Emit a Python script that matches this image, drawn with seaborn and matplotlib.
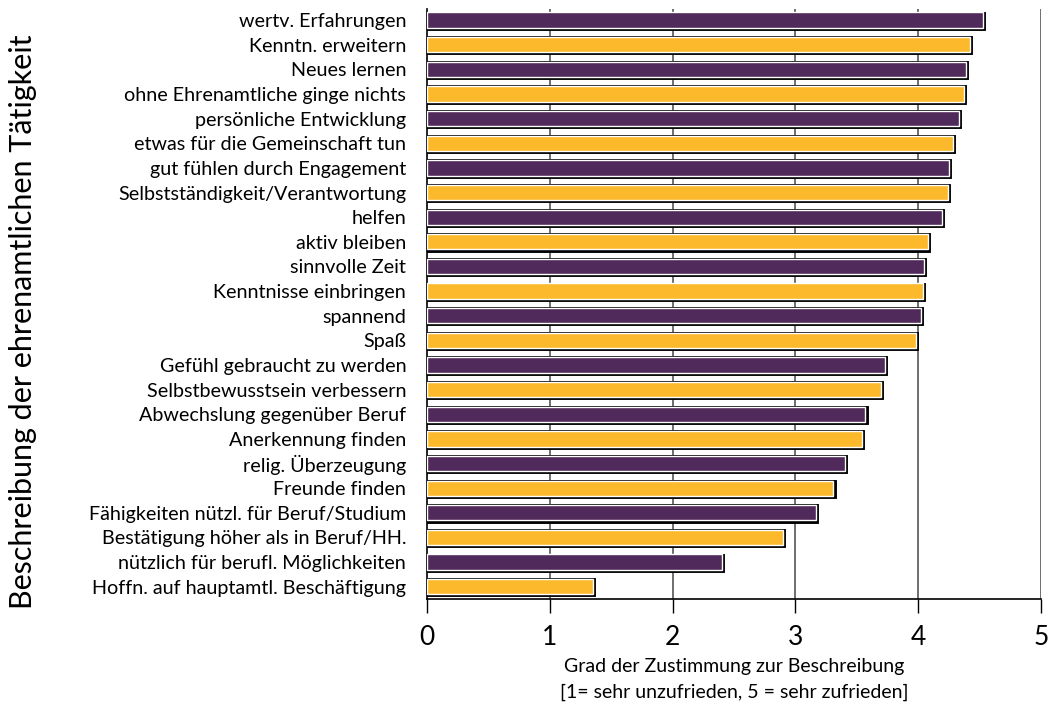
import matplotlib
matplotlib.use("Agg")
import matplotlib.pyplot as plt
import matplotlib.patheffects as pe
import seaborn as sns
import pandas as pd

# Beschreibungen (von oben nach unten) und mittlere Zustimmung
beschreibungen = [
    "wertv. Erfahrungen",
    "Kenntn. erweitern",
    "Neues lernen",
    "ohne Ehrenamtliche ginge nichts",
    "persönliche Entwicklung",
    "etwas für die Gemeinschaft tun",
    "gut fühlen durch Engagement",
    "Selbstständigkeit/Verantwortung",
    "helfen",
    "aktiv bleiben",
    "sinnvolle Zeit",
    "Kenntnisse einbringen",
    "spannend",
    "Spaß",
    "Gefühl gebraucht zu werden",
    "Selbstbewusstsein verbessern",
    "Abwechslung gegenüber Beruf",
    "Anerkennung finden",
    "relig. Überzeugung",
    "Freunde finden",
    "Fähigkeiten nützl. für Beruf/Studium",
    "Bestätigung höher als in Beruf/HH.",
    "nützlich für berufl. Möglichkeiten",
    "Hoffn. auf hauptamtl. Beschäftigung",
]
zustimmung = [4.53, 4.42, 4.39, 4.37, 4.33, 4.28, 4.25, 4.24, 4.19, 4.08,
              4.05, 4.04, 4.02, 3.98, 3.73, 3.70, 3.57, 3.54, 3.40, 3.31,
              3.17, 2.90, 2.40, 1.35]

lila = "#512a5c"
gelb = "#fbb92b"
farben = [lila if i % 2 == 0 else gelb for i in range(len(beschreibungen))]

df = pd.DataFrame({"Beschreibung": beschreibungen, "Zustimmung": zustimmung})

sns.set_style("white")
plt.rcParams["font.family"] = ["Lato", "DejaVu Sans"]
plt.rcParams["text.color"] = "black"
plt.rcParams["axes.labelcolor"] = "black"
plt.rcParams["xtick.color"] = "black"
plt.rcParams["ytick.color"] = "black"

fig = plt.figure(figsize=(10.51, 7.13), dpi=100)
ax = fig.add_axes([427 / 1051, 1 - 599 / 713, (1041 - 427) / 1051, (599 - 9) / 713])

sns.barplot(data=df, x="Zustimmung", y="Beschreibung", hue="Beschreibung",
            palette=farben, legend=False, width=0.62, saturation=1, ax=ax,
            edgecolor="white", linewidth=1.0, zorder=3)

# schwarzer Schatten-Rand um die Balken
for bar in ax.patches:
    bar.set_path_effects([pe.Stroke(linewidth=2.8, foreground="black", offset=(0.8, -0.8)),
                          pe.Normal()])

ax.set_xlim(0, 5)
ax.set_ylim(len(beschreibungen) - 0.5, -0.45)
ax.set_xticks(range(0, 6))
ax.tick_params(axis="x", labelsize=19, length=10, width=1, color="black",
               direction="out", pad=9, bottom=True)
ax.tick_params(axis="y", labelsize=14.2, length=0, pad=15)

for x in range(1, 6):
    ax.axvline(x, color="#555555", linewidth=1.2, zorder=1)

for s in ["top", "right"]:
    ax.spines[s].set_visible(False)
ax.spines["left"].set_color("black")
ax.spines["left"].set_linewidth(1.2)
ax.spines["bottom"].set_color("black")
ax.spines["bottom"].set_linewidth(1.2)

ax.set_xlabel("Grad der Zustimmung zur Beschreibung\n[1= sehr unzufrieden, 5 = sehr zufrieden]",
              fontsize=14, linespacing=1.6)
ax.xaxis.set_label_coords(0.5, -0.1, transform=ax.transAxes)
ax.xaxis.label.set_va("top")
ax.set_ylabel("Beschreibung der ehrenamtlichen Tätigkeit", fontsize=22)
ax.yaxis.set_label_coords((37 - 427) / 614, (599 - 322) / 590)

fig.savefig("out.png", dpi=100)
